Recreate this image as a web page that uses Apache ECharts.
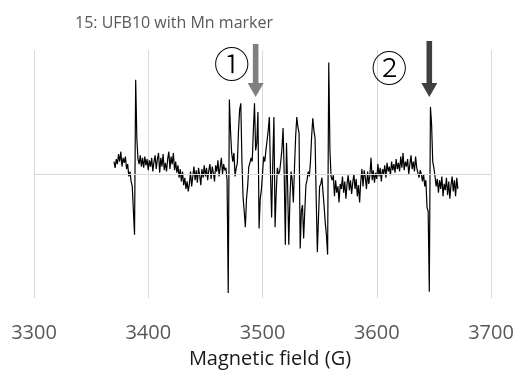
<!DOCTYPE html>
<html>
<head>
<meta charset="utf-8">
<script src="https://cdn.jsdelivr.net/npm/echarts@6/dist/echarts.min.js"></script>
<style>
  html, body { margin: 0; padding: 0; background: #fff; }
  #main { width: 516px; height: 371px; }
</style>
</head>
<body>
<div id="main"></div>
<script>
// EPR spectrum, one point per gauss starting at fieldStart
var fieldStart = 3370;
var signal = [
  0.10, 0.05, 0.12, 0.08, 0.16, 0.10, 0.18, 0.06, 0.13, 0.09,
  0.14, 0.04, 0.08, -0.02, 0.02, -0.06, -0.10, -0.09, -0.49, 0.76,
  0.29, 0.12, 0.08, 0.15, 0.06, 0.13, 0.05, 0.14, 0.07, 0.12,
  0.03, 0.11, 0.06, 0.13, 0.02, 0.10, 0.15, 0.04, 0.12, 0.17,
  0.01, 0.13, 0.06, 0.16, 0.03, 0.09, 0.02, 0.12, 0.18, 0.04,
  0.14, 0.08, 0.17, 0.03, 0.10, 0.01, 0.07, -0.03, 0.04, -0.06,
  0.02, -0.09, -0.03, -0.12, -0.06, -0.14, -0.08, 0.02, -0.10, -0.02,
  0.06, -0.05, 0.03, -0.07, 0.05, -0.01, -0.09, 0.04, -0.03, 0.07,
  -0.02, 0.05, -0.05, 0.03, 0.08, -0.04, 0.06, 0.01, -0.06, 0.07,
  0.02, 0.11, -0.02, 0.06, 0.13, 0.00, 0.08, 0.03, 0.05, -0.05,
  -0.96, 0.60, 0.35, 0.17, 0.10, 0.17, -0.02, 0.05, 0.09, 0.35,
  0.52, 0.57, 0.10, -0.19, -0.30, -0.43, -0.20, -0.10, 0.06, 0.09,
  0.13, 0.10, 0.35, 0.57, 0.19, 0.25, 0.50, -0.44, -0.20, -0.13,
  0.00, 0.14, 0.10, 0.19, 0.20, 0.35, 0.46, 0.00, -0.35, 0.10,
  0.46, -0.43, -0.15, 0.05, 0.00, 0.02, 0.10, 0.20, 0.37, 0.00,
  -0.57, 0.25, -0.10, -0.57, -0.20, 0.02, -0.05, -0.23, 0.05, 0.30,
  0.46, 0.38, 0.33, -0.60, -0.30, -0.25, -0.52, -0.30, -0.09, -0.05,
  0.02, -0.02, 0.10, 0.30, 0.45, 0.35, 0.29, -0.20, -0.63, -0.35,
  -0.10, -0.08, -0.03, -0.15, -0.27, -0.40, -0.50, -0.65, 0.90, 0.20,
  -0.02, -0.05, -0.01, -0.18, -0.05, -0.15, -0.10, -0.23, -0.08, -0.12,
  -0.02, -0.15, -0.06, -0.20, -0.08, -0.01, -0.13, -0.05, -0.16, -0.07,
  0.00, -0.12, -0.04, -0.18, -0.09, -0.23, -0.06, 0.04, -0.10, 0.03,
  -0.03, -0.12, 0.02, -0.08, -0.01, 0.13, -0.05, 0.03, -0.07, 0.01,
  -0.04, 0.08, -0.02, 0.05, -0.06, 0.04, 0.00, 0.07, -0.03, 0.09,
  0.02, 0.06, -0.01, 0.10, 0.03, 0.08, 0.01, 0.12, 0.04, 0.09,
  0.02, 0.14, 0.05, 0.17, 0.03, 0.10, 0.06, 0.12, 0.00, 0.08,
  0.15, 0.04, 0.10, 0.02, 0.14, 0.05, 0.01, -0.03, 0.03, 0.00,
  -0.06, 0.00, -0.10, -0.05, -0.27, -0.30, -0.95, 0.54, 0.40, 0.10,
  0.05, -0.02, -0.10, -0.04, -0.15, -0.05, -0.12, -0.02, -0.18, -0.08,
  -0.13, -0.03, -0.17, -0.06, -0.20, -0.09, -0.02, -0.14, -0.05, -0.18,
  -0.03, -0.12
];
var xTicks = [3300, 3400, 3500, 3600, 3700];
// marker arrows: field position and tip height (signal units)
var markerFields = [3494, 3646];
var markerTips = [0.62, 0.62];
var markerLabels = ['①', '②'];

var points = [];
for (var i = 0; i < signal.length; i++) {
  points.push([fieldStart + i, signal[i]]);
}

var chart = echarts.init(document.getElementById('main'));
var option = {
  animation: false,
  backgroundColor: '#FFFFFF',
  title: {
    text: '15: UFB10 with Mn marker',
    left: 70,
    top: 10,
    textStyle: {
      fontFamily: 'Open Sans',
      fontSize: 16,
      fontWeight: 'normal',
      color: '#595959'
    }
  },
  grid: {
    left: 34,
    right: 25,
    top: 50,
    bottom: 73,
    outerBoundsMode: 'none'
  },
  xAxis: {
    type: 'value',
    min: xTicks[0],
    max: xTicks[xTicks.length - 1],
    interval: 100,
    name: 'Magnetic field (G)',
    nameLocation: 'middle',
    nameGap: 51,
    nameTextStyle: {
      fontFamily: 'Open Sans',
      fontSize: 20,
      color: '#1a1a1a',
      padding: [0, 0, 0, 15]
    },
    axisLine: { show: false },
    axisTick: { show: false },
    axisLabel: {
      margin: 25,
      fontFamily: 'Open Sans',
      fontSize: 20,
      color: '#595959',
      formatter: function (v) { return String(v); }
    },
    splitLine: {
      show: true,
      lineStyle: { color: '#d9d9d9', width: 1 }
    }
  },
  yAxis: {
    type: 'value',
    min: -1,
    max: 1,
    show: false
  },
  series: [
    {
      name: 'signal',
      type: 'line',
      data: points,
      showSymbol: false,
      sampling: 'none',
      lineStyle: { color: '#000000', width: 1.2 },
      markLine: {
        silent: true,
        symbol: 'none',
        label: { show: false },
        lineStyle: { color: '#d9d9d9', width: 1, type: 'solid' },
        data: [{ yAxis: 0 }]
      },
      z: 3
    }
  ]
};
chart.setOption(option);

// arrows + circled numbers, placed from the marker positions
function drawMarkers() {
  var arrowColors = ['#7f7f7f', '#404040'];
  var arrowTops = [44, 41];
  var labelOffsets = [[-24, 64], [-40, 68]];
  var graphics = [];
  for (var k = 0; k < markerFields.length; k++) {
    var p = chart.convertToPixel({ gridIndex: 0 }, [markerFields[k], markerTips[k]]);
    var ax = p[0], tipY = p[1], topY = arrowTops[k];
    graphics.push({
      type: 'polygon',
      shape: {
        points: [
          [ax - 2.8, topY], [ax + 2.8, topY], [ax + 2.8, tipY - 14], [ax + 8, tipY - 14],
          [ax, tipY], [ax - 8, tipY - 14], [ax - 2.8, tipY - 14]
        ]
      },
      style: { fill: arrowColors[k] },
      z: 10
    });
    graphics.push({
      type: 'text',
      x: ax + labelOffsets[k][0],
      y: labelOffsets[k][1],
      style: {
        text: markerLabels[k],
        fontFamily: 'Noto Sans CJK JP',
        fontWeight: 300,
        fontSize: 36,
        fill: '#000000',
        align: 'center',
        verticalAlign: 'middle'
      },
      z: 10
    });
  }
  chart.setOption({ graphic: graphics });
}
drawMarkers();

window.addEventListener('resize', function () {
  chart.resize();
  drawMarkers();
});
</script>
</body>
</html>
